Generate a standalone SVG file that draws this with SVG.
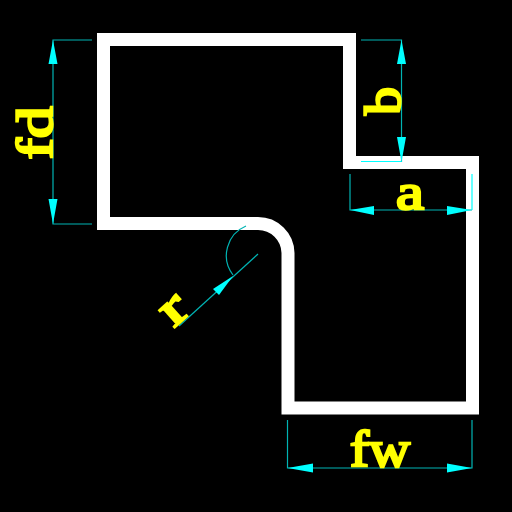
<svg xmlns="http://www.w3.org/2000/svg" width="512" height="512" viewBox="0 0 512 512">
<style>
.t{font-family:"Liberation Serif",serif;font-size:50px;fill:#ffff00;stroke:#ffff00;stroke-width:2.4;text-anchor:middle}
.d{fill:none;stroke:#00b4b4;stroke-width:1.2}
.c{fill:none;stroke:#00ffff;stroke-width:1.2}
.h{fill:#00ffff;stroke:none}
</style>
<rect width="512" height="512" fill="#000"/>
<path id="profile" d="M103.500 39.500H349.500V162.500H472.500V408H288V253A30 30 0 0 0 258 223.500H103.500Z" fill="none" stroke="#fff" stroke-width="13"/>
<g id="dim-fd">
<path class="d" d="M92 40H53V224H92"/>
<path class="h" d="M53 40L57.500 64H48.500ZM53 224L57.500 199H48.500Z"/>
<text class="t" transform="translate(52 133) rotate(-90)" textLength="53" lengthAdjust="spacingAndGlyphs">fd</text>
</g>
<g id="dim-b">
<path class="d" d="M361 40H401.500V162"/>
<path class="c" d="M361 161.500H401.500"/>
<path class="h" d="M401.500 40L406 64H397ZM401.500 162L406 137H397Z"/>
<text class="t" transform="translate(400 101) rotate(-90)" textLength="28" lengthAdjust="spacingAndGlyphs">b</text>
</g>
<g id="dim-a">
<path class="d" d="M350 174V210H472"/>
<path class="c" d="M472 174V210"/>
<path class="h" d="M350 210L374 206V215ZM472 210L447 206V215Z"/>
<text class="t" x="410" y="209" textLength="28" lengthAdjust="spacingAndGlyphs">a</text>
</g>
<g id="dim-fw">
<path class="d" d="M287.500 420V468H472V420"/>
<path class="h" d="M287.500 468L313 463.500V472.500ZM472 468L447 463.500V472.500Z"/>
<text class="t" x="380" y="466" textLength="60" lengthAdjust="spacingAndGlyphs">fw</text>
</g>
<g id="dim-r">
<path class="d" d="M258 254L179 326"/>
<path class="d" d="M246 226A32 32 0 0 0 233 275"/>
<path class="h" d="M233 276L213 289L219 295Z"/>
<text class="t" transform="translate(183 320) rotate(-42)" textLength="24" lengthAdjust="spacingAndGlyphs">r</text>
</g>
</svg>
